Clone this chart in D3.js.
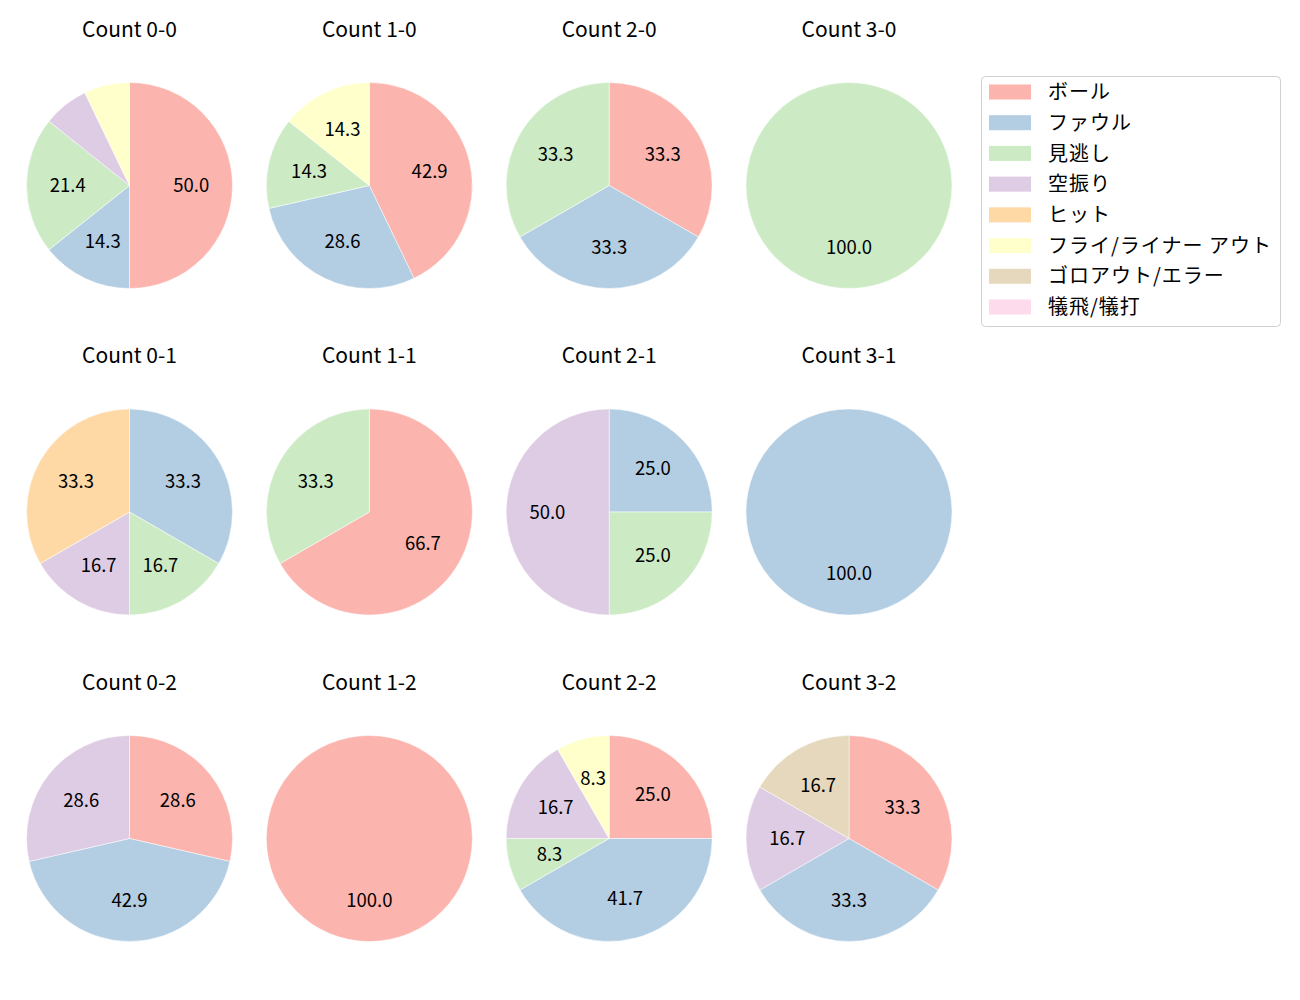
<!DOCTYPE html>
<html>
<head>
<meta charset="utf-8">
<script src="https://cdn.jsdelivr.net/npm/d3@7"></script>
<style>
  body { margin: 0; background: #fff; }
  text { font-family: "Noto Sans CJK JP", "Noto Sans", sans-serif; fill: #000; }
</style>
</head>
<body>
<div id="chart"></div>
<script>
/*******************************************************************************
* Data
*******************************************************************************/
var categories = ['ボール', 'ファウル', '見逃し', '空振り', 'ヒット',
  'フライ/ライナー アウト', 'ゴロアウト/エラー', '犠飛/犠打'];
var colors = ['#fbb4ae', '#b3cde3', '#ccebc5', '#decbe4', '#fed9a6',
  '#ffffcc', '#e5d8bd', '#fddaec'];

// balls-strikes of each panel, row by row
var countTitles = ['Count 0-0', 'Count 1-0', 'Count 2-0', 'Count 3-0',
  'Count 0-1', 'Count 1-1', 'Count 2-1', 'Count 3-1',
  'Count 0-2', 'Count 1-2', 'Count 2-2', 'Count 3-2'];

// pitch counts per category (same order as categories)
var count00 = [7, 2, 3, 1, 0, 1, 0, 0];
var count10 = [3, 2, 1, 0, 0, 1, 0, 0];
var count20 = [1, 1, 1, 0, 0, 0, 0, 0];
var count30 = [0, 0, 1, 0, 0, 0, 0, 0];
var count01 = [0, 2, 1, 1, 2, 0, 0, 0];
var count11 = [2, 0, 1, 0, 0, 0, 0, 0];
var count21 = [0, 1, 1, 2, 0, 0, 0, 0];
var count31 = [0, 1, 0, 0, 0, 0, 0, 0];
var count02 = [2, 3, 0, 2, 0, 0, 0, 0];
var count12 = [1, 0, 0, 0, 0, 0, 0, 0];
var count22 = [3, 5, 1, 2, 0, 1, 0, 0];
var count32 = [2, 2, 0, 1, 0, 0, 1, 0];

var panelValues = [count00, count10, count20, count30,
  count01, count11, count21, count31,
  count02, count12, count22, count32];

/*******************************************************************************
* Svg Container
*******************************************************************************/
var fullWidth = 1300;
var fullHeight = 1000;
var radius = 103;

var svg = d3.select('#chart').append('svg')
  .attr('width', fullWidth)
  .attr('height', fullHeight);

var xPos = d3.scaleLinear().domain([0, 3]).range([129.5, 849]);
var yPos = d3.scaleLinear().domain([0, 2]).range([185.5, 838.5]);

var pie = d3.pie().sort(null).value(function (d) { return d; });
var arc = d3.arc().innerRadius(0).outerRadius(radius);
var labelArc = d3.arc().innerRadius(radius * 0.6).outerRadius(radius * 0.6);

/*******************************************************************************
* pies
*******************************************************************************/
panelValues.forEach(function (values, idx) {
  var col = idx % 4, row = Math.floor(idx / 4);
  var total = d3.sum(values);
  var g = svg.append('g')
    .attr('transform', 'translate(' + xPos(col) + ',' + yPos(row) + ')');

  var slices = pie(values).map(function (d, i) { d.cat = i; return d; })
    .filter(function (d) { return d.value > 0; });

  g.selectAll('path')
    .data(slices)
    .enter()
    .append('path')
    .attr('d', arc)
    .style('fill', function (d) { return colors[d.cat]; })
    .style('stroke', '#fff')
    .style('stroke-width', 0.5);

  // small slices (< 8%) get no label
  g.selectAll('text.lbl')
    .data(slices.filter(function (d) { return d.value / total * 100 >= 8; }))
    .enter()
    .append('text')
    .attr('class', 'lbl')
    .attr('transform', function (d) { return 'translate(' + labelArc.centroid(d) + ')'; })
    .attr('text-anchor', 'middle')
    .attr('dy', '0.36em')
    .style('font-size', '18.5px')
    .text(function (d) { return (d.value / total * 100).toFixed(1); });

  g.append('text')
    .attr('x', 0)
    .attr('y', -156.5)
    .attr('dy', '0.36em')
    .attr('text-anchor', 'middle')
    .style('font-size', '21px')
    .text(countTitles[idx]);
});

/*******************************************************************************
* legend
*******************************************************************************/
var legend = svg.append('g');
legend.append('rect')
  .attr('x', 981.5).attr('y', 76.5)
  .attr('width', 299).attr('height', 250)
  .attr('rx', 4)
  .style('fill', '#fff')
  .style('stroke', '#d0d0d0');

var legendY = d3.scaleLinear().domain([0, 7]).range([92, 307]);
var items = legend.selectAll('g.item')
  .data(categories)
  .enter()
  .append('g')
  .attr('transform', function (d, i) { return 'translate(0,' + legendY(i) + ')'; });

items.append('rect')
  .attr('x', 989).attr('y', -7.5)
  .attr('width', 42).attr('height', 15)
  .style('fill', function (d, i) { return colors[i]; });

items.append('text')
  .attr('x', 1048)
  .attr('dy', '0.36em')
  .style('font-size', '20px')
  .style('letter-spacing', '1px')
  .text(function (d) { return d; });
</script>
</body>
</html>
